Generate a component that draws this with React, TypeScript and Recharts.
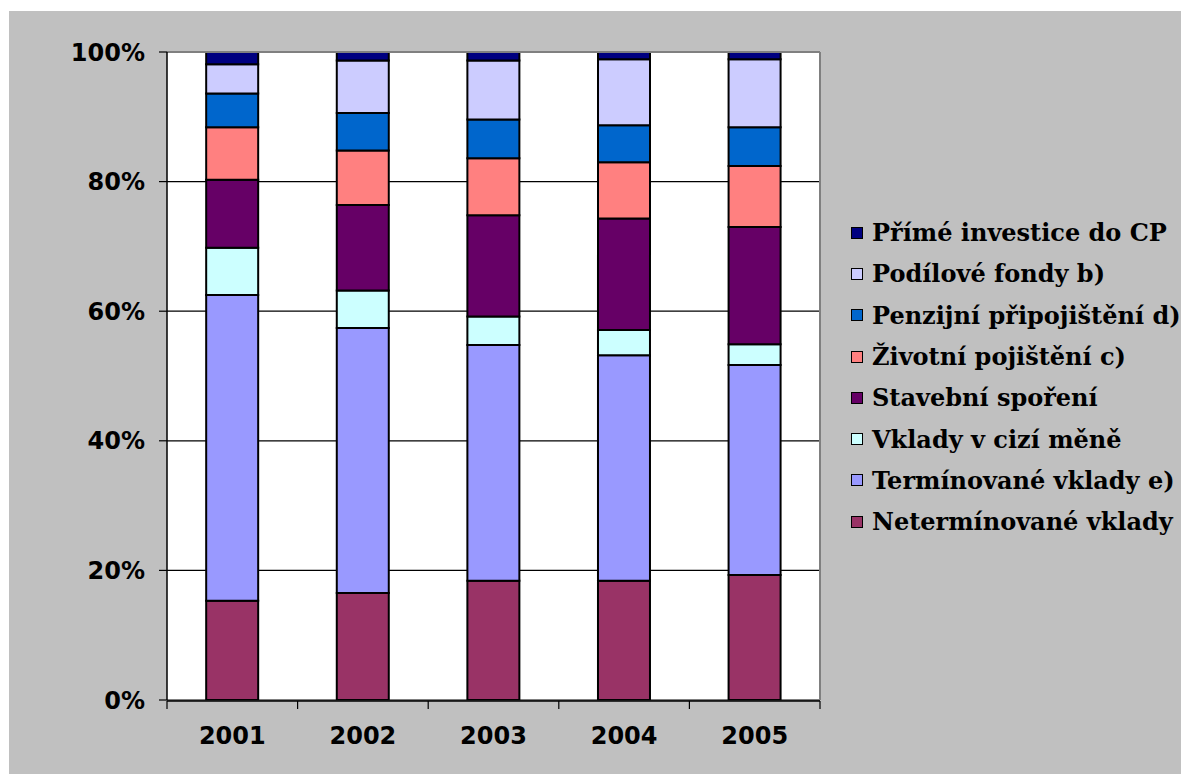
import React from 'react';
import { BarChart, Bar, XAxis, YAxis, CartesianGrid, ReferenceLine } from 'recharts';

const years = ['2001', '2002', '2003', '2004', '2005'];
const yTicks = [0, 20, 40, 60, 80, 100];
const gridTicks = [0, 1, 2, 3, 4, 5];

const netermin = [15.3, 16.5, 18.4, 18.4, 19.3];
const termin = [47.2, 40.9, 36.4, 34.8, 32.4];
const cizi = [7.3, 5.8, 4.4, 3.9, 3.2];
const stavebni = [10.5, 13.2, 15.6, 17.2, 18.1];
const zivotni = [8.1, 8.4, 8.8, 8.7, 9.4];
const penzijni = [5.2, 5.8, 6.0, 5.7, 6.0];
const podilove = [4.5, 8.1, 9.1, 10.2, 10.5];
const prime = [1.9, 1.3, 1.3, 1.1, 1.1];

const series = [
  { key: 'net', name: 'Netermínované vklady', color: '#993366', values: netermin },
  { key: 'term', name: 'Termínované vklady e)', color: '#9999FF', values: termin },
  { key: 'cizi', name: 'Vklady v cizí měně', color: '#CCFFFF', values: cizi },
  { key: 'stav', name: 'Stavební spoření', color: '#660066', values: stavebni },
  { key: 'ziv', name: 'Životní pojištění c)', color: '#FF8080', values: zivotni },
  { key: 'penz', name: 'Penzijní připojištění d)', color: '#0066CC', values: penzijni },
  { key: 'pod', name: 'Podílové fondy b)', color: '#CCCCFF', values: podilove },
  { key: 'prime', name: 'Přímé investice do CP', color: '#000080', values: prime },
];

const data = years.map((y, i) => {
  const row: Record<string, number | string> = { year: y, idx: i + 0.5 };
  series.forEach((s) => {
    row[s.key] = s.values[i];
  });
  return row;
});

const axisFont = { fill: '#000', fontFamily: 'DejaVu Sans', fontWeight: 'bold', fontSize: 24 } as const;

export default function App() {
  const legendItems = [...series].reverse();
  return (
    <div style={{ position: 'absolute', left: 0, top: 0, width: 1181, height: 774, background: '#fff', overflow: 'hidden' }}>
      <div style={{ position: 'absolute', left: 9, top: 11, right: 0, bottom: 0, background: '#C0C0C0' }} />
      <div style={{ position: 'absolute', left: 0, top: 0 }}>
        <BarChart
          width={1181}
          height={774}
          data={data}
          margin={{ top: 52, right: 361, bottom: 72, left: 0 }}
          barCategoryGap="30%"
        >
          <CartesianGrid vertical={false} stroke="#000" strokeWidth={1.2} fill="#fff" fillOpacity={1} />
          <XAxis
            xAxisId="grid"
            type="number"
            dataKey="idx"
            domain={[0, 5]}
            ticks={gridTicks}
            allowDataOverflow
            height={1}
            tickSize={8}
            tickFormatter={() => ''}
            tickLine={{ stroke: '#000', strokeWidth: 1.2 }}
            axisLine={{ stroke: '#000', strokeWidth: 1.5 }}
          />
          <XAxis
            dataKey="year"
            height={1}
            tickSize={7}
            tickMargin={20}
            tickLine={false}
            axisLine={false}
            tick={axisFont}
            interval={0}
          />
          <YAxis
            width={167}
            domain={[0, 100]}
            ticks={yTicks}
            allowDataOverflow
            tickFormatter={(v: number) => `${v}%`}
            tickSize={8}
            tickMargin={14}
            tick={axisFont}
            tickLine={{ stroke: '#000', strokeWidth: 1.2 }}
            axisLine={{ stroke: '#000', strokeWidth: 1.5 }}
          />
          {series.map((s) => (
            <Bar
              key={s.key}
              dataKey={s.key}
              name={s.name}
              stackId="a"
              fill={s.color}
              stroke="#000"
              strokeWidth={2}
              isAnimationActive={false}
            />
          ))}
          <ReferenceLine y={100} stroke="#808080" strokeWidth={2} />
          <ReferenceLine x={5} xAxisId="grid" stroke="#808080" strokeWidth={2} />
        </BarChart>
      </div>
      <div style={{ position: 'absolute', left: 851, top: 212 }}>
        {legendItems.map((s) => (
          <div
            key={s.key}
            style={{ display: 'flex', alignItems: 'center', height: 41.3, whiteSpace: 'nowrap' }}
          >
            <div
              style={{
                width: 10,
                height: 10,
                background: s.color,
                border: '1.5px solid #000',
                marginRight: 9,
                flexShrink: 0,
              }}
            />
            <span style={{ fontFamily: 'DejaVu Serif', fontWeight: 'bold', fontSize: 24, color: '#000' }}>
              {s.name}
            </span>
          </div>
        ))}
      </div>
    </div>
  );
}
